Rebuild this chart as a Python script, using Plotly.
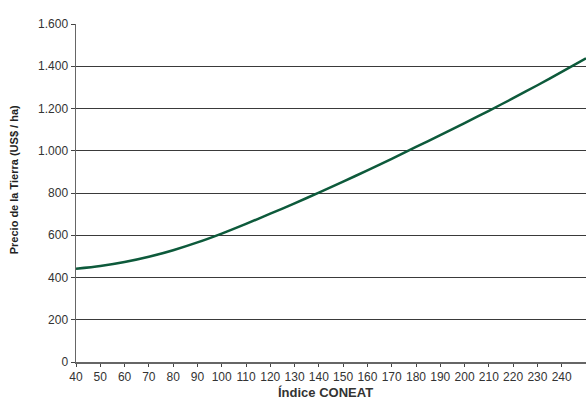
import plotly.graph_objects as go

coneat = [40, 50, 60, 70, 80, 90, 100, 110, 120, 130, 140, 150, 160, 170, 180, 190, 200, 210, 220, 230, 240, 250]
precio = [441, 454, 473, 498, 529, 566, 608, 654, 702, 751, 802, 854, 907, 962, 1018, 1074, 1131, 1189, 1249, 1310, 1373, 1438]
x_ticks = list(range(40, 250, 10))
y_ticks = list(range(0, 1601, 200))

font_fam = "Liberation Sans Narrow, Arial Narrow, Liberation Sans, Arial, sans-serif"

fig = go.Figure()
fig.add_trace(go.Scatter(x=coneat, y=precio, mode="lines",
                         line=dict(color="#0d5a3b", width=2.5, shape="spline", smoothing=0.8),
                         showlegend=False, hoverinfo="skip"))

fig.update_layout(
    width=586, height=405,
    margin=dict(l=76, r=0, t=24, b=43),
    paper_bgcolor="white", plot_bgcolor="white",
    separators=",.",
    font=dict(family=font_fam, size=12, color="#333333"),
    xaxis=dict(range=[40, 250], tickvals=x_ticks, ticks="outside", ticklen=3,
               tickcolor="#444", showgrid=False, zeroline=False, automargin=False,
               showline=True, linecolor="#666", linewidth=1.5,
               tickfont=dict(size=12, color="#333")),
    yaxis=dict(range=[0, 1600], tickvals=y_ticks, tickformat=",d", ticks="outside", ticklen=4,
               tickcolor="#444", showgrid=True, gridcolor="#3a3a3a", gridwidth=1,
               zeroline=False, showline=True, linecolor="#666", linewidth=1.5, automargin=False,
               tickfont=dict(size=12, color="#333")),
    annotations=[
        dict(text="<b>Índice CONEAT</b>", xref="paper", yref="paper", x=0.49, y=-0.09,
             xanchor="center", yanchor="middle", showarrow=False,
             font=dict(size=13, color="#333")),
        dict(text="<b>Precio de la Tierra (US$ / ha)</b>", xref="paper", yref="paper",
             x=-0.12, y=0.54, xanchor="center", yanchor="middle", textangle=-90,
             showarrow=False, font=dict(size=11, color="#222")),
    ],
)
fig.write_html("out.html", config={"displayModeBar": False, "staticPlot": True},
               post_script="document.body.style.margin='0';document.body.style.padding='0';")
